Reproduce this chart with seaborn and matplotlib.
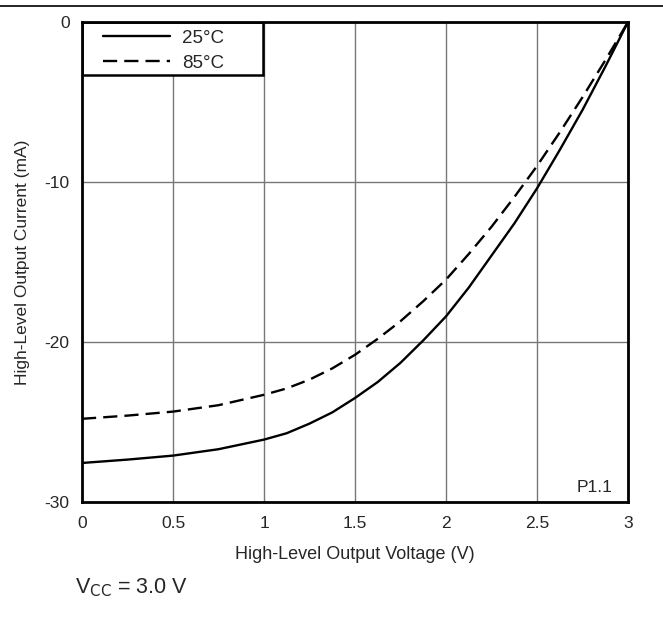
import numpy as np
import pandas as pd
import seaborn as sns
from matplotlib import pyplot as plt
from matplotlib.lines import Line2D
from matplotlib.patches import Rectangle

# values
voltage = [0.0, 0.25, 0.5, 0.75, 1.0, 1.125, 1.25, 1.375, 1.5, 1.625, 1.75, 1.875,
           2.0, 2.125, 2.25, 2.375, 2.5, 2.625, 2.75, 2.875, 3.0]
current_25 = [-27.56, -27.35, -27.1, -26.7, -26.1, -25.7, -25.1, -24.4, -23.5, -22.5, -21.3, -19.9,
              -18.4, -16.6, -14.6, -12.6, -10.4, -8.0, -5.5, -2.8, 0.0]
current_85 = [-24.8, -24.6, -24.35, -23.95, -23.3, -22.9, -22.35, -21.65, -20.8, -19.8, -18.7, -17.45,
              -16.1, -14.5, -12.8, -10.95, -9.0, -6.9, -4.7, -2.4, 0.0]
temps = ["25°C", "85°C"]

df = pd.concat([
    pd.DataFrame({"V": voltage, "I": current_25, "T": temps[0]}),
    pd.DataFrame({"V": voltage, "I": current_85, "T": temps[1]}),
])

sns.set_style("white")
plt.rcParams['font.family'] = ['Liberation Sans', 'DejaVu Sans']
plt.rcParams['axes.unicode_minus'] = False

fig = plt.figure(figsize=(6.63, 6.19), dpi=100)
ax = fig.add_axes([0.1237, 0.189, 0.8235, 0.7755])

sns.lineplot(data=df, x="V", y="I", style="T", style_order=temps,
             dashes={"25°C": "", "85°C": (6, 3)}, color="black", linewidth=1.7,
             ax=ax, legend=False)

ax.set_xlim(0, 3)
ax.set_ylim(-30, 0)
ax.set_xticks([0, 0.5, 1, 1.5, 2, 2.5, 3])
ax.set_xticklabels(["0", "0.5", "1", "1.5", "2", "2.5", "3"])
ax.set_yticks([0, -10, -20, -30])
ax.tick_params(length=0, labelsize=12.5)
ax.tick_params(axis="x", pad=10)
ax.tick_params(axis="y", pad=9)
ax.grid(True, color="#777777", linewidth=1)
for s in ax.spines.values():
    s.set_color("black")
    s.set_linewidth(2)
    s.set_zorder(5)
ax.set_xlabel("High-Level Output Voltage (V)", fontsize=13, labelpad=11)
ax.set_ylabel("High-Level Output Current (mA)", fontsize=12.5, labelpad=10)

# legend: white box with black frame against the top-left corner
ax.add_patch(Rectangle((0, 1 - 0.110), 0.3315, 0.110, transform=ax.transAxes,
                       facecolor="white", edgecolor="black", linewidth=1.8, zorder=4))
handles = [Line2D([], [], color="black", linewidth=1.7),
           Line2D([], [], color="black", linewidth=1.7, dashes=(6, 3))]
leg = ax.legend(handles, temps, loc="upper left", bbox_to_anchor=(0.038, 0.984),
                fontsize=13.5, frameon=False, borderaxespad=0, borderpad=0,
                handlelength=3.6, handletextpad=0.65, labelspacing=0.42)
leg.set_zorder(6)

ax.text(0.972, 0.015, "P1.1", transform=ax.transAxes, ha="right", va="bottom", fontsize=12.5)
fig.text(0.113, 0.05, r"V$_{\mathrm{CC}}$ = 3.0 V", fontsize=15.5, ha="left", va="center")
fig.add_artist(Line2D([0, 1], [0.99, 0.99], color="black", linewidth=1.2, transform=fig.transFigure))

fig.savefig("out.png", dpi=100)
